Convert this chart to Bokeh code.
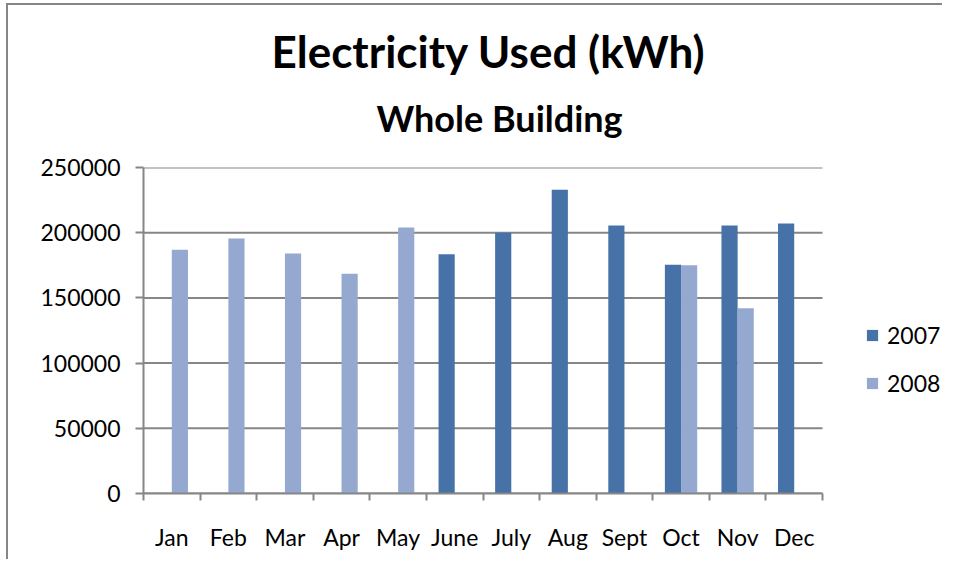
import numpy as np
from bokeh.plotting import figure
from bokeh.models import (ColumnDataSource, FixedTicker, Legend, LegendItem,
                          Title, Range1d, BasicTickFormatter)
from bokeh.embed import file_html
from bokeh.resources import INLINE

months = ["Jan", "Feb", "Mar", "Apr", "May", "June", "July", "Aug",
          "Sept", "Oct", "Nov", "Dec"]
kwh_2007 = [None, None, None, None, None, 183500, 200000, 233000,
            205500, 175500, 205500, 207000]
kwh_2008 = [187000, 195500, 184000, 168500, 204000, None, None, None,
            None, 175000, 142000, None]
series_names = ["2007", "2008"]
y_ticks = [0, 50000, 100000, 150000, 200000, 250000]

C07 = "#4672A7"
C08 = "#95A9D0"
GRID = "#868686"
FONT = "Lato"

BW, ML, MT = 2, 6, 3                     # chart-area border width and its offset
DX, DY = BW + ML, BW + MT
W, H = 944 - DX, 561 - DY
FL, FR, FT, FB = 143 - DX, 822 - DX, 167 - DY, 493 - DY   # plot-area box in pixels
n = len(months)
x_end = n * (W - FL) / (FR - FL)               # frame runs to the canvas edge; legend sits in the spare room

p = figure(width=W, height=H, output_backend="svg", toolbar_location=None,
           title=None, x_range=Range1d(0, x_end),
           y_range=Range1d(0, y_ticks[-1]),
           min_border_left=FL, min_border_right=0,
           min_border_top=FT, min_border_bottom=H - FB)
p.styles = {"border-left": f"{BW}px solid {GRID}", "border-top": f"{BW}px solid {GRID}",
            "margin-left": f"{ML}px", "margin-top": f"{MT}px"}

bar_w = 1 / 3.5
idx = np.arange(n) + 0.5

# horizontal gridlines limited to the category span
p.segment(x0=[0] * len(y_ticks), x1=[n] * len(y_ticks), y0=y_ticks, y1=y_ticks,
          line_color=GRID, line_width=2)


def make_source(vals, shift):
    xs = [float(i + shift) for i, v in zip(idx, vals) if v is not None]
    ys = [v for v in vals if v is not None]
    return ColumnDataSource(dict(x=xs, top=ys))


r07 = p.vbar(x="x", top="top", width=bar_w, source=make_source(kwh_2007, -bar_w / 2),
             fill_color=C07, line_color=None)
r08 = p.vbar(x="x", top="top", width=bar_w, source=make_source(kwh_2008, bar_w / 2),
             fill_color=C08, line_color=None)

# axes
p.xaxis.bounds = (0, n)
p.xaxis.ticker = FixedTicker(ticks=list(idx), minor_ticks=list(range(n + 1)))
p.xaxis.major_label_overrides = {float(i): m for i, m in zip(idx, months)}
p.xaxis.major_tick_out = 0
p.xaxis.major_tick_in = 0
p.xaxis.minor_tick_out = 7
p.xaxis.minor_tick_in = 0
p.xaxis.minor_tick_line_color = GRID
p.xaxis.minor_tick_line_width = 2
p.xaxis.axis_line_color = GRID
p.xaxis.axis_line_width = 2
p.xaxis.major_label_standoff = 22
p.xaxis.major_label_text_font = FONT
p.xaxis.major_label_text_font_size = "23px"
p.xaxis.major_label_text_color = "black"

p.yaxis.ticker = FixedTicker(ticks=y_ticks)
p.yaxis.formatter = BasicTickFormatter(use_scientific=False)
p.yaxis.major_tick_out = 8
p.yaxis.major_tick_in = 0
p.yaxis.minor_tick_line_color = None
p.yaxis.major_tick_line_color = GRID
p.yaxis.major_tick_line_width = 2
p.yaxis.axis_line_color = GRID
p.yaxis.axis_line_width = 2
p.yaxis.major_label_standoff = 15
p.yaxis.major_label_text_font = FONT
p.yaxis.major_label_text_font_size = "23px"
p.yaxis.major_label_text_color = "black"

p.xgrid.grid_line_color = None
p.ygrid.grid_line_color = None
p.outline_line_color = None

# titles
sub = Title(text="Whole Building", align="left", offset=233, text_font=FONT,
            text_font_size="36px", text_font_style="bold", text_color="black",
            standoff=55)
main = Title(text="Electricity Used (kWh)", align="left", offset=128, text_font=FONT,
             text_font_size="44px", text_font_style="bold", text_color="black",
             standoff=-20)
p.add_layout(sub, "above")
p.add_layout(main, "above")

legend = Legend(items=[LegendItem(label=series_names[0], renderers=[r07]),
                       LegendItem(label=series_names[1], renderers=[r08])],
                location=(865 - 143, 493 - 397), orientation="vertical",
                glyph_width=14, glyph_height=14, label_height=28,
                label_standoff=8, spacing=20, padding=0, margin=0,
                border_line_color=None, background_fill_alpha=0,
                label_text_font=FONT, label_text_font_size="23px",
                label_text_color="black")
p.add_layout(legend, "center")

open("out.html", "w").write(file_html(p, INLINE))
